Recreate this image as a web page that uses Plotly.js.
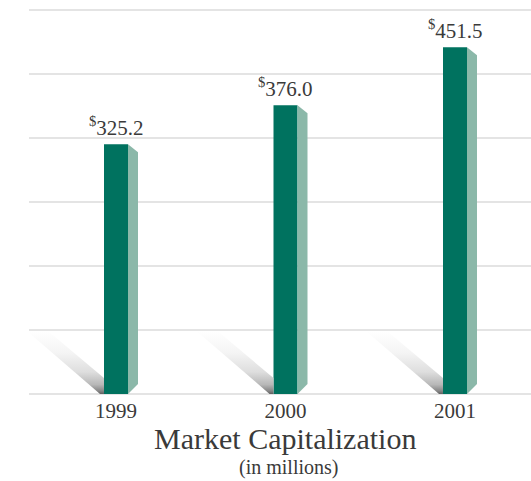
<!DOCTYPE html>
<html>
<head>
<meta charset="utf-8">
<script src="https://cdn.plot.ly/plotly-3.0.1.min.js"></script>
<style>
html,body{margin:0;padding:0;background:#fff;}
#chart{width:531px;height:481px;}
</style>
</head>
<body>
<div id="chart"></div>
<script>
// ---- data ----
const years = ['1999', '2000', '2001'];
const marketCap = [325.2, 376.0, 451.5];
const chartTitle = 'Market Capitalization';
const chartSubtitle = '(in millions)';

// ---- geometry helpers (pixel sizes -> data units) ----
const plotL = 29, plotR = 0, plotT = 8, plotB = 85;
const W = 531, H = 481;
const pxPerX = 169.5;
const xMin = -(116 - plotL) / pxPerX;
const xMax = xMin + (W - plotL - plotR) / pxPerX;
const yMax = 500;
const pxPerY = 384 / yMax;
const pad = 2 / pxPerY;             // 2px of room so edge gridlines are drawn
const dx = p => p / pxPerX;
const dy = p => p / pxPerY;

const xs = years.map((_, i) => i);
const frontW = dx(24);
const front = '#00725f';
const side = '#8bb8a9';
const textCol = '#3a3a3a';
const serif = '"Liberation Serif", "Times New Roman", serif';

const traces = [];

// shadows
xs.forEach((x, i) => {
  const xl = x - frontW / 2;
  const pts = [[-77, 63], [-56, 63], [0, 16], [0, 0], [-4, 0]];
  traces.push({
    type: 'scatter', mode: 'lines', hoverinfo: 'skip', showlegend: false,
    x: pts.map(p => xl + dx(p[0])).concat([xl + dx(pts[0][0])]),
    y: pts.map(p => dy(p[1])).concat([dy(pts[0][1])]),
    fill: 'toself', line: {width: 0, color: 'rgba(0,0,0,0)'},
    fillgradient: {type: 'vertical',
      colorscale: [[0, '#606060'], [0.05, '#888888'], [0.15, '#b8b8b8'], [0.35, '#dedede'], [0.65, '#f4f4f4'], [1, '#ffffff']]}
  });
});

// front faces
traces.push({
  type: 'bar', x: xs, y: marketCap, width: frontW,
  marker: {color: front, line: {width: 0}}, hoverinfo: 'skip', showlegend: false
});

// side faces
xs.forEach((x, i) => {
  const v = marketCap[i];
  const xr = x + frontW / 2;
  traces.push({
    type: 'scatter', mode: 'lines', hoverinfo: 'skip', showlegend: false,
    x: [xr, xr + dx(10), xr + dx(10), xr, xr],
    y: [v, v - dy(8), dy(10), 0, v],
    fill: 'toself', fillcolor: side, line: {width: 0, color: side}
  });
});

const annotations = xs.map((x, i) => ({
  x: x, y: marketCap[i], xref: 'x', yref: 'y',
  text: '<sup>$</sup>' + marketCap[i].toFixed(1),
  showarrow: false, yanchor: 'bottom', yshift: 2,
  font: {family: serif, size: 21, color: textCol}
}));
const plotH = H - plotT - plotB;
const pyFrac = px => (H - plotB - px) / plotH;
annotations.push({
  xref: 'paper', yref: 'paper', x: (285 - plotL) / (W - plotL - plotR), y: pyFrac(438),
  text: chartTitle, showarrow: false, xanchor: 'center', yanchor: 'middle',
  font: {family: serif, size: 30, color: textCol}
});
annotations.push({
  xref: 'paper', yref: 'paper', x: (288 - plotL) / (W - plotL - plotR), y: pyFrac(467),
  text: chartSubtitle, showarrow: false, xanchor: 'center', yanchor: 'middle',
  font: {family: serif, size: 20, color: textCol}
});

const layout = {
  width: W, height: H,
  margin: {l: plotL, r: plotR, t: plotT, b: plotB},
  paper_bgcolor: '#fff', plot_bgcolor: '#fff',
  showlegend: false,
  xaxis: {
    range: [xMin, xMax], tickmode: 'array', tickvals: xs, ticktext: years,
    showgrid: false, zeroline: false, showline: false, ticks: '',
    tickfont: {family: serif, size: 21, color: textCol}, fixedrange: true
  },
  yaxis: {
    range: [-pad, yMax + pad], tickmode: 'linear', tick0: 0, dtick: yMax / 6,
    showticklabels: false, showgrid: true, gridcolor: '#e4e4e4', gridwidth: 1.5,
    zeroline: false, showline: false, ticks: '', fixedrange: true
  },
  annotations: annotations
};

Plotly.newPlot('chart', traces, layout, {displayModeBar: false, staticPlot: true});
</script>
</body>
</html>
